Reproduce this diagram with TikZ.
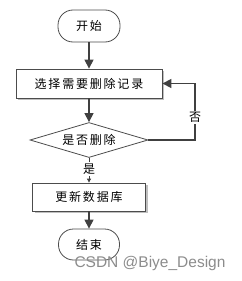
\documentclass[tikz,border=0pt]{standalone}
\usepackage{fontspec}
\newfontfamily\cjk[LetterSpace=15]{Noto Sans CJK SC}
\newfontfamily\wmfont{Liberation Sans}
\usepackage{tikz}
\usetikzlibrary{positioning, arrows.meta, shapes.geometric, shadows}
\tikzset{
  term/.style = {draw=black!70, line width=0.8pt, fill=white, rounded corners=15pt,
                 minimum width=62pt, minimum height=32pt, inner sep=0pt,
                 font=\cjk\fontsize{12}{12}\selectfont},
  proc/.style = {draw=black!70, line width=0.8pt, fill=white, inner sep=0pt,
                 drop shadow={shadow xshift=2pt, shadow yshift=-2pt, fill=black!25, opacity=1},
                 font=\cjk\fontsize{12}{12}\selectfont},
  dec/.style  = {draw=black!70, line width=0.8pt, fill=white, diamond, aspect=3.4,
                 inner sep=0pt, minimum width=118pt, minimum height=35pt,
                 font=\cjk\fontsize{12}{12}\selectfont},
  ar/.style   = {-{Triangle[length=9pt, width=9pt]}, line width=1.2pt, black!75},
  arsm/.style = {-{Triangle[length=4pt, width=4pt]}, line width=0.8pt, black!75},
  lbl/.style  = {fill=white, inner sep=1.5pt, text=black, font=\cjk\fontsize{12}{12}\selectfont},
}

\begin{document}
\begin{tikzpicture}[x=1pt, y=-1pt]
  \useasboundingbox (0,0) rectangle (241,281);
  \node[term] (start) at (89,26) {开始};
  \node[proc, minimum width=146pt, minimum height=29pt] (sel) at (89,83.5) {选择需要删除记录};
  \node[dec] (chk) at (89,140) {是否删除};
  \node[proc, minimum width=113pt, minimum height=28pt] (upd) at (89,197) {更新数据库};
  \node[term, minimum width=61pt, minimum height=31pt] (stop) at (89,244.5) {结束};
  \coordinate (bend) at (195,140);

  \draw[ar] (start) -- (sel);
  \draw[ar] (sel) -- (chk);
  \draw[arsm] (chk) -- node[lbl, pos=0.45] {是} (upd);
  \draw[ar] (upd) -- (stop);
  \draw[ar] (chk.east) -- (bend) |- node[lbl, pos=0.2] {否} (sel.east);

  \node[text=black!45, font=\wmfont\fontsize{15.5}{15.5}\selectfont] (wm) at (150,263) {CSDN @Biye\_Design};
\end{tikzpicture}
\end{document}
